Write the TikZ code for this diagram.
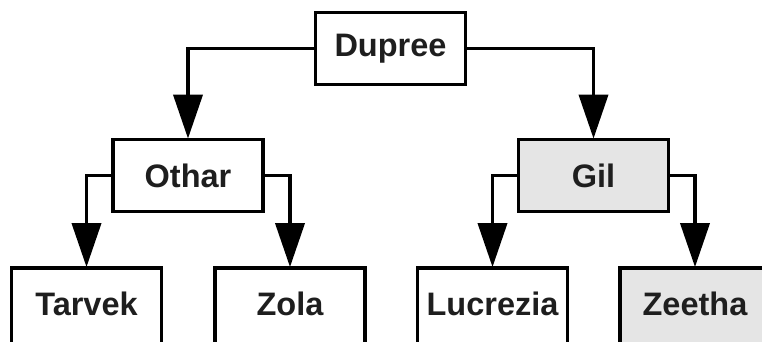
\documentclass[tikz,border=0pt]{standalone}
\usepackage{fontspec}
\setmainfont{Liberation Sans}
\usetikzlibrary{arrows.meta}
\definecolor{boxgray}{HTML}{E5E5E5}
\definecolor{txt}{HTML}{1E1E1E}
\begin{document}
\begin{tikzpicture}[x=1pt,y=-1pt,
  person/.style={draw=black, line width=3.8pt, fill=white, minimum width=150pt, minimum height=72pt,
    inner sep=0pt, font=\fontsize{32.5}{36}\selectfont\bfseries, text=txt},
  shaded/.style={person, fill=boxgray},
  leaf/.style={minimum height=80pt, text height=23.5pt, text depth=8pt},
  link/.style={line width=3.8pt, -{Triangle[length=44pt,width=29pt]}, shorten >=-1pt}]
\useasboundingbox[fill=white] (0,0) rectangle (762,341);
\node[person] (dupree) at (390.5,48.5) {Dupree};
\node[person] (othar) at (188,175.5) {Othar};
\node[shaded] (gil) at (593.5,175.5) {Gil};
\node[person, leaf] (tarvek) at (86.5,308) {Tarvek};
\node[person, leaf] (zola) at (290,308) {Zola};
\node[person, leaf] (lucrezia) at (492.5,308) {Lucrezia};
\node[shaded, leaf] (zeetha) at (695,308) {Zeetha};
\draw[link] (dupree.west) -| (othar.north);
\draw[link] (dupree.east) -| (gil.north);
\draw[link] (othar.west) -| (tarvek.north);
\draw[link] (othar.east) -| (zola.north);
\draw[link] (gil.west) -| (lucrezia.north);
\draw[link] (gil.east) -| (zeetha.north);
\end{tikzpicture}
\end{document}
